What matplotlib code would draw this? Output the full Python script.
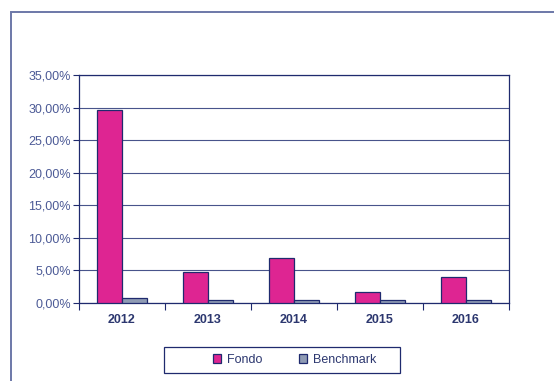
import matplotlib.pyplot as plt
import numpy as np
from matplotlib.patches import Rectangle
from matplotlib.ticker import FixedLocator, NullFormatter

years = ['2012', '2013', '2014', '2015', '2016']
fondo = [29.6, 4.7, 6.85, 1.7, 3.95]
benchmark = [0.72, 0.42, 0.5, 0.5, 0.42]
y_ticks = [0, 5, 10, 15, 20, 25, 30, 35]
y_labels = ['%.2f%%' % v for v in y_ticks]
y_labels = [s.replace('.', ',') for s in y_labels]

navy = '#1f2a6e'
frame_col = '#6c78a8'
label_col = '#4c5a96'
fondo_col = '#de2592'
bench_col = '#8f9bb4'

plt.rcParams['font.family'] = ['Liberation Sans', 'DejaVu Sans']

fig = plt.figure(figsize=(5.54, 3.81), dpi=100)
W, H = 554, 381

# outer chart frame, running off the right and bottom edge
fig.patches.append(Rectangle((10.5 / W, -0.1), 1.2, (H - 12) / H + 0.1,
                             transform=fig.transFigure, fill=False,
                             edgecolor=frame_col, linewidth=1.4))

ax = fig.add_axes([79 / W, (H - 303) / H, (509 - 79) / W, (303 - 75) / H])

x = np.arange(len(years))
w = 0.285
ax.bar(x - w / 2, fondo, w, color=fondo_col, edgecolor=navy, linewidth=0.9,
       label='Fondo', zorder=3)
ax.bar(x + w / 2, benchmark, w, color=bench_col, edgecolor=navy, linewidth=0.9,
       label='Benchmark', zorder=3)

ax.set_xlim(-0.5, len(years) - 0.5)
ax.set_ylim(0, 35)

ax.set_yticks(y_ticks)
ax.set_yticklabels(y_labels, color=label_col, fontsize=9)
ax.tick_params(axis='y', length=4, color=navy, width=0.8, pad=2)

# ticks between categories, labels centred on each category
ax.xaxis.set_major_locator(FixedLocator(np.arange(-0.5, len(years), 1.0)))
ax.xaxis.set_major_formatter(NullFormatter())
ax.xaxis.set_minor_locator(FixedLocator(x))
ax.set_xticklabels(years, minor=True, fontsize=9, fontweight='bold', color='#2c376f')
ax.tick_params(axis='x', which='major', length=5, color=navy, width=0.8)
ax.tick_params(axis='x', which='minor', length=0, pad=8)

ax.yaxis.grid(True, color='#34417f', linewidth=0.8, alpha=0.9, zorder=0)
ax.set_axisbelow(True)
for s in ax.spines.values():
    s.set_color(navy)
    s.set_linewidth(0.9)

# legend box
fig.patches.append(Rectangle((163.5 / W, (H - 373) / H), 236 / W, 26 / H,
                             transform=fig.transFigure, fill=True,
                             facecolor='white', edgecolor=navy, linewidth=0.9))
leg = fig.legend(loc='center left', bbox_to_anchor=(213 / W, (H - 360) / H), ncol=2,
                 fontsize=9, frameon=False, handlelength=0.65,
                 handleheight=0.65, columnspacing=2.9, handletextpad=0.5,
                 borderpad=0, borderaxespad=0)
for t in leg.get_texts():
    t.set_color('#2c376f')

fig.savefig('out.png', dpi=100)
